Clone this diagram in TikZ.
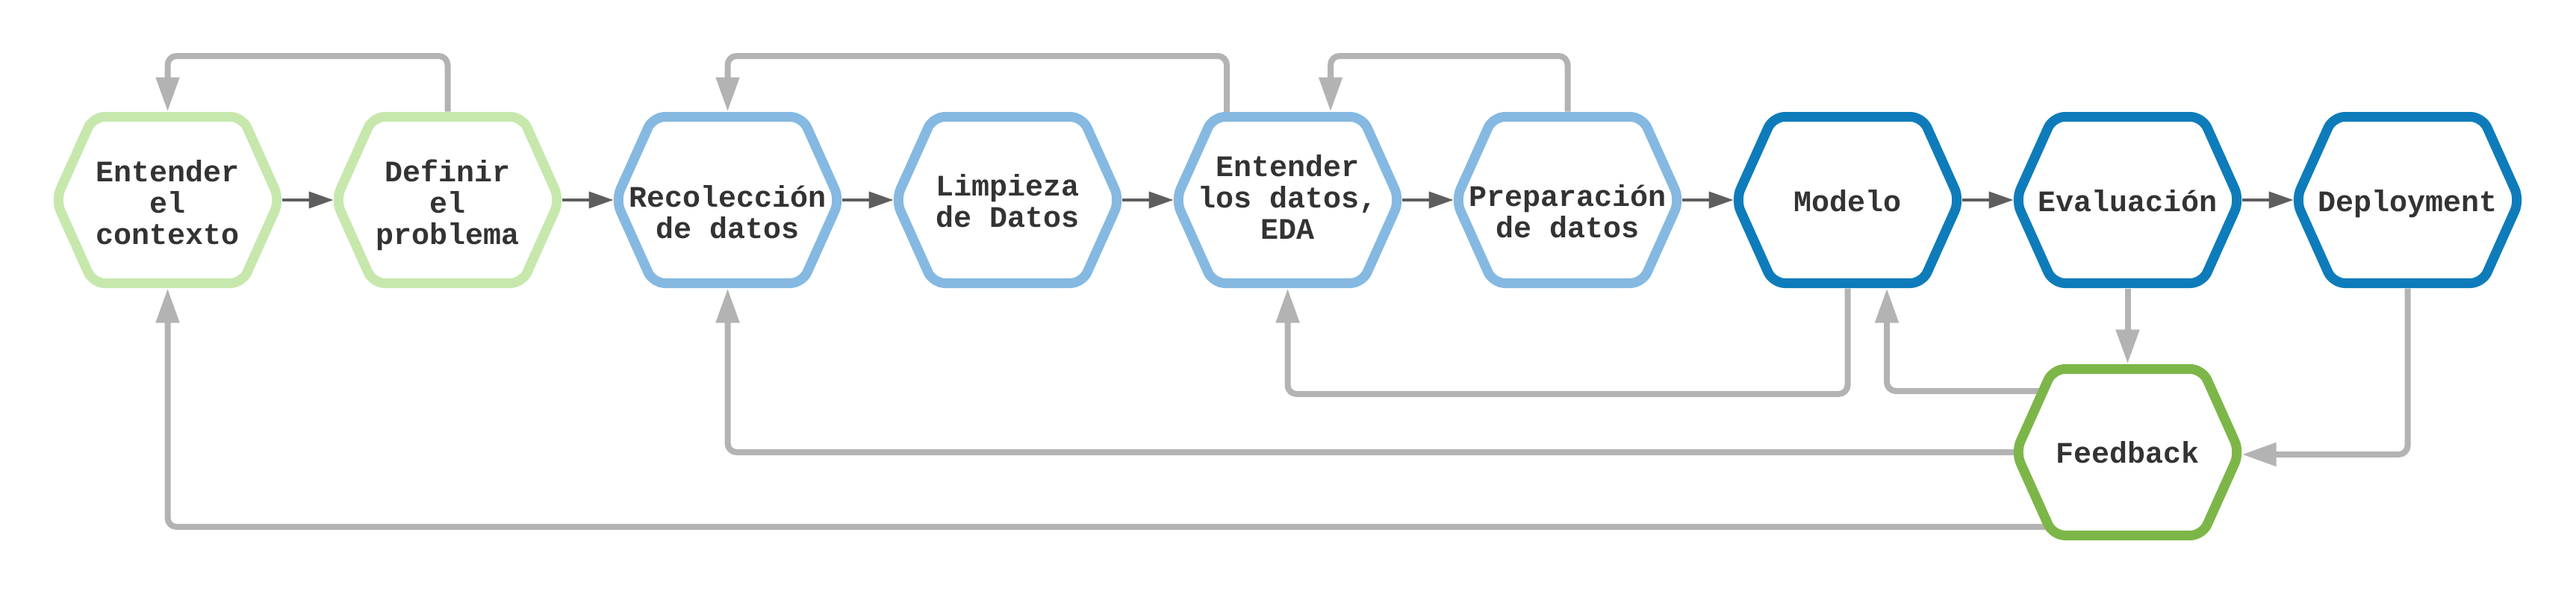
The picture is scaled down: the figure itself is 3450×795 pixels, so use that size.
\documentclass[tikz,border=0pt]{standalone}
\usepackage{fontspec}
\setmonofont{Liberation Mono}
\usetikzlibrary{arrows.meta,calc}
\definecolor{lgreen}{HTML}{C7E8AD}
\definecolor{lblue}{HTML}{85B9E2}
\definecolor{dblue}{HTML}{0E7CBA}
\definecolor{fgreen}{HTML}{7DB648}
\definecolor{lgray}{HTML}{B3B3B3}
\definecolor{dgray}{HTML}{5E5E5E}
\definecolor{txt}{HTML}{333333}
\newcommand\tstr{\rule{0pt}{36pt}}
\newcommand\bstr{\rule[-12pt]{0pt}{12pt}}
\newcommand\hexpath[2]{%
  \draw[hexline,#2] ([shift={(0,-111.5)}]#1.center) -- ([shift={(100,-111.5)}]#1.center)
    -- ([shift={(150,0)}]#1.center) -- ([shift={(100,111.5)}]#1.center)
    -- ([shift={(-100,111.5)}]#1.center) -- ([shift={(-150,0)}]#1.center)
    -- ([shift={(-100,-111.5)}]#1.center) -- cycle;}
\tikzset{
  hexnode/.style={minimum width=306pt, minimum height=237pt, inner sep=0pt, outer sep=0pt},
  hexline/.style={line width=13pt, fill=white, rounded corners=16pt, line join=round},
  lbl/.style={font=\ttfamily\bfseries\fontsize{40}{42}\selectfont, text=txt, align=center, inner sep=0pt},
  fwd/.style={draw=dgray, line width=4pt, -{Triangle[length=33pt,width=22pt]}},
  back/.style={draw=lgray, line width=8pt, rounded corners=12pt, -{Triangle[length=46pt,width=30pt]}},
}
\begin{document}
\begin{tikzpicture}[x=1pt,y=-1pt]
\useasboundingbox[fill=white] (0,0) rectangle (3450,795);
% hexagon frames (invisible nodes used as anchors)
\node[hexnode] (h1) at (224.5,268) {};
\node[hexnode] (h2) at (599.5,268) {};
\node[hexnode] (h3) at (974.5,268) {};
\node[hexnode] (h4) at (1349.5,268) {};
\node[hexnode] (h5) at (1724.5,268) {};
\node[hexnode] (h6) at (2099.5,268) {};
\node[hexnode] (h7) at (2474.5,268) {};
\node[hexnode] (h8) at (2849.5,268) {};
\node[hexnode] (h9) at (3224.5,268) {};
\node[hexnode] (hf) at (2849.5,606) {};
% helper coordinates
\coordinate (topy) at (0,75);
\coordinate (ya) at (0,528);
\coordinate (yb) at (0,524);
\coordinate (yc) at (0,609);
\coordinate (yd) at (0,706);
\coordinate (l2s) at ([shift={(-81.5,20)}]h5.north);
\coordinate (l3e) at ([xshift=57.5pt]h5.north);
\coordinate (l7in) at ([xshift=52.5pt]h7.south);
\coordinate (fe) at (hf.east |- yc);
% feedback connectors
\draw[back] (h2.north) -- (h2.north |- topy) -| (h1.north);
\draw[back] (l2s) -- (l2s |- topy) -| (h3.north);
\draw[back] (h6.north) -- (h6.north |- topy) -| (l3e);
\draw[back] (h7.south) -- (h7.south |- ya) -| (h5.south);
\draw[back] (hf.center |- yb) -| (l7in);
\draw[back] (h8.south) -- (hf.north);
\draw[back] (h9.south) |- (fe);
\draw[back] (hf.center) -| (h3.south);
\draw[back] (hf.center |- yd) -| (h1.south);
% hexagons
\hexpath{h1}{draw=lgreen}
\hexpath{h2}{draw=lgreen}
\hexpath{h3}{draw=lblue}
\hexpath{h4}{draw=lblue}
\hexpath{h5}{draw=lblue}
\hexpath{h6}{draw=lblue}
\hexpath{h7}{draw=dblue}
\hexpath{h8}{draw=dblue}
\hexpath{h9}{draw=dblue}
\hexpath{hf}{draw=fgreen}
% labels
\node[lbl] (t1) at (224.5,273) {\tstr Entender\\el\\contexto\bstr};
\node[lbl] (t2) at (599.5,273) {\tstr Definir\\el\\problema\bstr};
\node[lbl] (t3) at (974.5,286) {\tstr Recolección\\de datos\bstr};
\node[lbl] (t4) at (1349.5,271.5) {\tstr Limpieza\\de Datos\bstr};
\node[lbl] (t5) at (1724.5,266.5) {\tstr Entender\\los datos,\\EDA\bstr};
\node[lbl] (t6) at (2099.5,285.5) {\tstr Preparación\\de datos\bstr};
\node[lbl] (t7) at (2474.5,271) {\tstr Modelo\bstr};
\node[lbl] (t8) at (2849.5,271) {\tstr Evaluación\bstr};
\node[lbl] (t9) at (3224.5,271) {\tstr Deployment\bstr};
\node[lbl] (tf) at (2849.5,608) {\tstr Feedback\bstr};
% main flow
\draw[fwd] (h1.east) -- (h2.west);
\draw[fwd] (h2.east) -- (h3.west);
\draw[fwd] (h3.east) -- (h4.west);
\draw[fwd] (h4.east) -- (h5.west);
\draw[fwd] (h5.east) -- (h6.west);
\draw[fwd] (h6.east) -- (h7.west);
\draw[fwd] (h7.east) -- (h8.west);
\draw[fwd] (h8.east) -- (h9.west);
\end{tikzpicture}
\end{document}
